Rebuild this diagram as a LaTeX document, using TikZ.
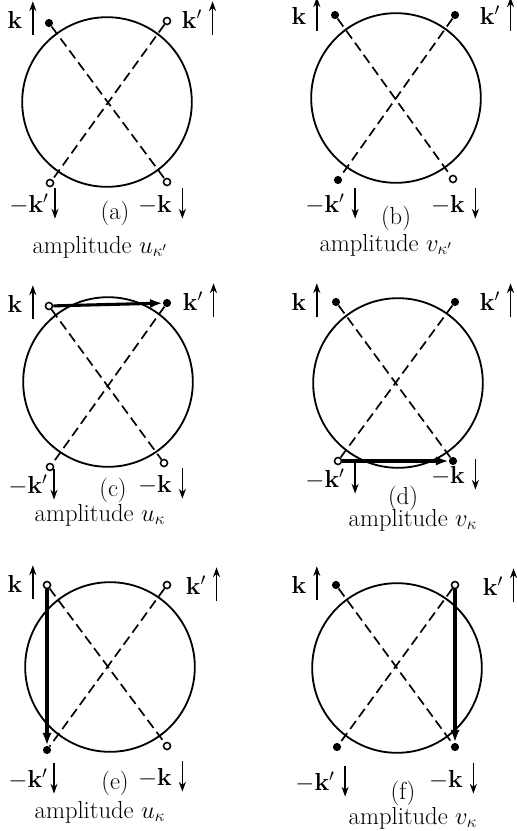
\RequirePackage{fix-cm}
\documentclass[tikz,border=0pt]{standalone}
\usepackage{amsmath,amssymb,bm}
\usepackage{tikz}
\usetikzlibrary{arrows.meta,positioning,calc}
\newcommand\spinup{\tikz[baseline=0pt]\draw[line width=1pt,-{Stealth[length=7pt,width=5pt]}] (0,-4.7pt) -- (0,19pt);}
\newcommand\spindn{\tikz[baseline=0pt]\draw[line width=1pt,-{Stealth[length=7pt,width=5pt]}] (0,17pt) -- (0,-4.7pt);}
\tikzset{
  ring/.style ={draw,line width=1.3pt},
  pair/.style ={draw,line width=1.2pt,dash pattern=on 7pt off 3.6pt},
  hop/.style  ={draw,line width=2.2pt,-{Latex[length=9pt,width=6.5pt]}},
  occ/.style  ={circle,fill,inner sep=0pt,minimum size=5.8pt},
  hole/.style ={circle,draw,fill=white,line width=1.1pt,inner sep=0pt,minimum size=5pt},
  lab/.style  ={inner sep=0pt,anchor=base},
  ttl/.style  ={inner sep=0pt},
}

\begin{document}
\begin{tikzpicture}[x=0.025cm,y=-0.025cm,every node/.style={font=\fontsize{17.5}{21}\selectfont}]
  \useasboundingbox (0,0) rectangle (516,831);

  \coordinate (ca) at (107,102);
  \node [occ]  (a1) at (49,23)   {};
  \node [hole] (a2) at (167,21)  {};
  \node [hole] (a3) at (50,183)  {};
  \node [hole] (a4) at (167,182) {};
  \draw [ring] (ca) circle [radius=2.12cm];
  \draw [pair] (a1) -- (a4);
  \draw [pair] (a2) -- (a3);
  \node [lab] (la1) at (22,28)   {$\mathbf{k}$\hspace{5pt}\spinup};
  \node [lab] (la2) at (199,28)  {$\mathbf{k}'$\hspace{5pt}\spinup};
  \node [lab] (la3) at (34,212)  {$-\mathbf{k}'$\hspace{2pt}\spindn};
  \node [lab] (la4) at (162,212) {$-\mathbf{k}$\hspace{5pt}\spindn};
  \node [ttl] (ta)  at (115,213) {(a)};
  \node [ttl] (ampa) at (100,247) {amplitude $u_{\kappa'}$};

  \coordinate (cb) at (396,98);
  \node [occ]  (b1) at (335,15)  {};
  \node [occ]  (b2) at (455,15)  {};
  \node [occ]  (b3) at (338,180) {};
  \node [hole] (b4) at (453,179) {};
  \draw [ring] (cb) circle [radius=2.12cm];
  \draw [pair] (b1) -- (b4);
  \draw [pair] (b2) -- (b3);
  \node [lab] (lb1) at (306,24)  {$\mathbf{k}$\hspace{5pt}\spinup};
  \node [lab] (lb2) at (497,24)  {$\mathbf{k}'$\hspace{5pt}\spinup};
  \node [lab] (lb3) at (332,212) {$-\mathbf{k}'$\hspace{5pt}\spindn};
  \node [lab] (lb4) at (455,212) {$-\mathbf{k}$\hspace{5pt}\spindn};
  \node [ttl] (tb)  at (396,218) {(b)};
  \node [ttl] (ampb) at (386,245) {amplitude $v_{\kappa'}$};

  \coordinate (cc) at (108,382);
  \node [hole] (c1) at (49,306)  {};
  \node [occ]  (c2) at (167,303) {};
  \node [hole] (c3) at (50,467)  {};
  \node [hole] (c4) at (164,463) {};
  \draw [ring] (cc) circle [radius=2.12cm];
  \draw [pair] (c1) -- (c4);
  \draw [pair] (c2) -- (c3);
  \draw [hop]  (c1) -- (c2);
  \node [lab] (lc1) at (22,312)  {$\mathbf{k}$\hspace{5pt}\spinup};
  \node [lab] (lc2) at (200,310) {$\mathbf{k}'$\hspace{5pt}\spinup};
  \node [lab] (lc3) at (33,493)  {$-\mathbf{k}'$\hspace{2pt}\spindn};
  \node [lab] (lc4) at (162,492) {$-\mathbf{k}$\hspace{5pt}\spindn};
  \node [ttl] (tc)  at (113,490) {(c)};
  \node [ttl] (ampc) at (100,515) {amplitude $u_{\kappa}$};

  \coordinate (cd) at (398,383);
  \node [occ]  (d1) at (336,302) {};
  \node [occ]  (d2) at (455,302) {};
  \node [hole] (d3) at (338,461) {};
  \node [occ]  (d4) at (453,461) {};
  \draw [ring] (cd) circle [radius=2.12cm];
  \draw [pair] (d1) -- (d4);
  \draw [pair] (d2) -- (d3);
  \draw [hop]  (d3) -- (d4);
  \node [lab] (ld1) at (306,310) {$\mathbf{k}$\hspace{5pt}\spinup};
  \node [lab] (ld2) at (497,310) {$\mathbf{k}'$\hspace{5pt}\spinup};
  \node [lab] (ld3) at (332,487) {$-\mathbf{k}'$\hspace{5pt}\spindn};
  \node [lab] (ld4) at (455,483) {$-\mathbf{k}$\hspace{5pt}\spindn};
  \node [ttl] (td)  at (403,498) {(d)};
  \node [ttl] (ampd) at (413,520) {amplitude $v_{\kappa}$};

  \coordinate (ce) at (110,667);
  \node [hole] (e1) at (47,585)  {};
  \node [hole] (e2) at (167,585) {};
  \node [occ]  (e3) at (47,750)  {};
  \node [hole] (e4) at (167,746) {};
  \draw [ring] (ce) circle [radius=2.12cm];
  \draw [pair] (e1) -- (e4);
  \draw [pair] (e2) -- (e3);
  \draw [hop]  (e1) -- (e3);
  \node [lab] (le1) at (22,592)  {$\mathbf{k}$\hspace{5pt}\spinup};
  \node [lab] (le2) at (203,594) {$\mathbf{k}'$\hspace{5pt}\spinup};
  \node [lab] (le3) at (33,787)  {$-\mathbf{k}'$\hspace{2pt}\spindn};
  \node [lab] (le4) at (162,785) {$-\mathbf{k}$\hspace{5pt}\spindn};
  \node [ttl] (te)  at (115,783) {(e)};
  \node [ttl] (ampe) at (100,812) {amplitude $u_{\kappa}$};

  \coordinate (cf) at (397,668);
  \node [occ]  (f1) at (336,585) {};
  \node [hole] (f2) at (455,585) {};
  \node [occ]  (f3) at (337,747) {};
  \node [occ]  (f4) at (455,747) {};
  \draw [ring] (cf) circle [radius=2.12cm];
  \draw [pair] (f1) -- (f4);
  \draw [pair] (f2) -- (f3);
  \draw [hop]  (f2) -- (f4);
  \node [lab] (lf1) at (306,593) {$\mathbf{k}$\hspace{5pt}\spinup};
  \node [lab] (lf2) at (500,595) {$\mathbf{k}'$\hspace{5pt}\spinup};
  \node [lab] (lf3) at (322,790) {$-\mathbf{k}'$\hspace{5pt}\spindn};
  \node [lab] (lf4) at (453,787) {$-\mathbf{k}$\hspace{5pt}\spindn};
  \node [ttl] (tf)  at (403,793) {(f)};
  \node [ttl] (ampf) at (413,818) {amplitude $v_{\kappa}$};
\end{tikzpicture}
\end{document}
